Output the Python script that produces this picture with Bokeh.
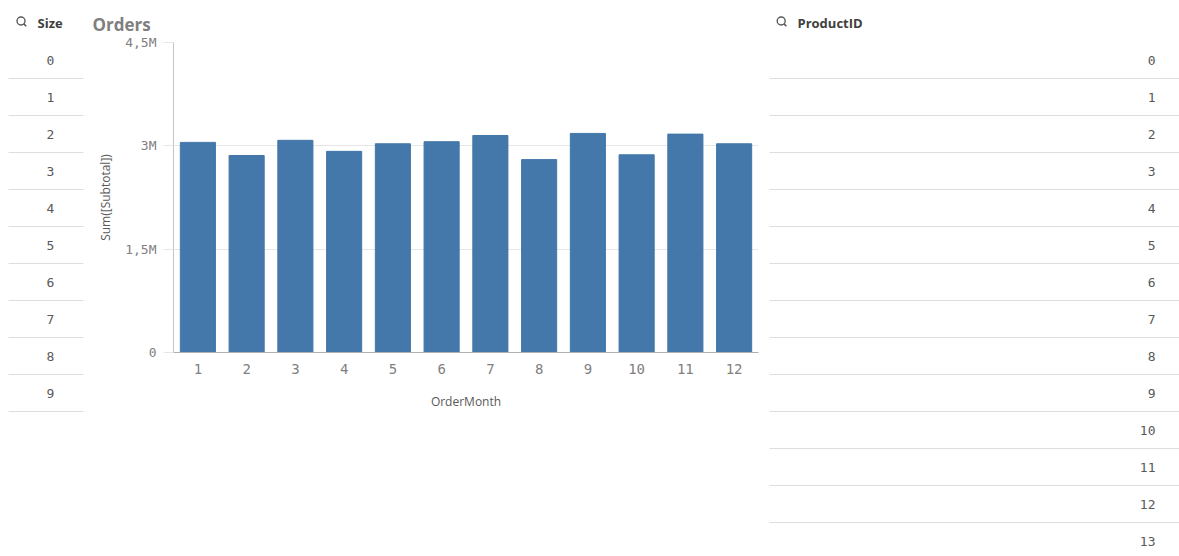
from bokeh.plotting import figure
from bokeh.layouts import row
from bokeh.models import Range1d, FactorRange, FixedTicker, ColumnDataSource, Title
from bokeh.core.properties import value
from bokeh.embed import file_html
from bokeh.resources import INLINE

# ---------------- data ----------------
months = ["1", "2", "3", "4", "5", "6", "7", "8", "9", "10", "11", "12"]
subtotal = [3.05e6, 2.86e6, 3.08e6, 2.92e6, 3.03e6, 3.06e6, 3.15e6, 2.80e6, 3.18e6, 2.87e6, 3.17e6, 3.03e6]
y_ticks = [0, 1500000, 3000000, 4500000]
y_tick_labels = ["0", "1,5M", "3M", "4,5M"]
size_items = ["0", "1", "2", "3", "4", "5", "6", "7", "8", "9"]
product_items = ["0", "1", "2", "3", "4", "5", "6", "7", "8", "9", "10", "11", "12", "13"]
chart_title = "Orders"
x_label = "OrderMonth"
y_label = "Sum([Subtotal])"

H = 556
MONO_NAME = "DejaVu Sans Mono"
SANS_NAME = "Open Sans"
MONO = value(MONO_NAME)
SANS = value(SANS_NAME)
ROW_H = 37.0
ROW0 = 59.5


def listbox(width, header, items, line_x0, line_x1, num_x, num_align, icon_x, head_x):
    p = figure(width=width, height=H, x_range=Range1d(0, width), y_range=Range1d(H, 0),
               output_backend="svg", toolbar_location=None, min_border=0,
               x_axis_location=None, y_axis_location=None, frame_align=False)
    p.grid.visible = False
    p.outline_line_color = None
    ys = [ROW0 + ROW_H * i for i in range(len(items))]
    src = ColumnDataSource(dict(y=ys, t=items, ly=[y + ROW_H / 2 for y in ys]))
    p.segment(x0=line_x0, x1=line_x1, y0="ly", y1="ly", source=src,
              line_color="#dedede", line_width=1)
    p.text(x=num_x, y="y", text="t", source=src, text_font=MONO, text_font_size="13px",
           text_color="#595959", text_align=num_align, text_baseline="middle")
    # magnifier icon
    p.scatter(x=[icon_x], y=[20.5], size=8, marker="circle", fill_color=None,
              line_color="#595959", line_width=1.4)
    p.segment(x0=[icon_x + 2.6], y0=[23.1], x1=[icon_x + 5.2], y1=[25.7],
              line_color="#595959", line_width=1.6)
    p.text(x=[head_x], y=[22.5], text=[header], text_font=SANS, text_font_size="13px",
           text_font_style="bold", text_color="#404040", text_baseline="middle")
    return p


left = listbox(88, "Size", size_items, 8, 83, 50, "center", 20.5, 37)
right = listbox(414, "ProductID", product_items, 4, 414, 390, "right", 15.7, 32)

chart = figure(width=677, height=H, x_range=FactorRange(*months, range_padding=0),
               y_range=Range1d(0, 4500000), output_backend="svg", toolbar_location=None,
               min_border_left=85, min_border_right=7, min_border_top=42, min_border_bottom=204,
               frame_align=False)
chart.outline_line_color = None
chart.vbar(x=months, top=subtotal, width=0.72, fill_color="#4477aa", line_color="#4477aa")

chart.xgrid.visible = False
chart.ygrid.ticker = FixedTicker(ticks=y_ticks)
chart.ygrid.grid_line_color = "#e6e6e6"

ya = chart.yaxis[0]
ya.ticker = FixedTicker(ticks=y_ticks)
ya.major_label_overrides = {t: l for t, l in zip(y_ticks, y_tick_labels)}
ya.axis_line_color = "#c4c4c4"
ya.major_tick_line_color = "#e6e6e6"
ya.major_tick_out = 10
ya.major_tick_in = 0
ya.minor_tick_line_color = None
ya.major_label_standoff = 7
ya.major_label_text_font = MONO_NAME
ya.major_label_text_font_size = "13px"
ya.major_label_text_color = "#808080"
ya.axis_label = y_label
ya.axis_label_text_font = SANS_NAME
ya.axis_label_text_font_size = "12px"
ya.axis_label_text_font_style = "normal"
ya.axis_label_text_color = "#595959"
ya.axis_label_standoff = 8

xa = chart.xaxis[0]
xa.axis_line_color = "#b0b0b0"
xa.major_tick_line_color = None
xa.major_tick_out = 0
xa.major_tick_in = 0
xa.minor_tick_line_color = None
xa.major_label_standoff = 11
xa.major_label_text_font = MONO_NAME
xa.major_label_text_font_size = "14px"
xa.major_label_text_color = "#808080"
xa.axis_label = x_label
xa.axis_label_text_font = SANS_NAME
xa.axis_label_text_font_size = "12px"
xa.axis_label_text_font_style = "normal"
xa.axis_label_text_color = "#595959"
xa.axis_label_standoff = 16

chart.add_layout(Title(text=chart_title, align="left", offset=-81, standoff=14,
                       text_font=SANS_NAME, text_font_size="17px", text_font_style="bold",
                       text_color="#7f7f7f"), "above")

layout = row(left, chart, right, spacing=0)
open("out.html", "w").write(file_html(layout, INLINE))
